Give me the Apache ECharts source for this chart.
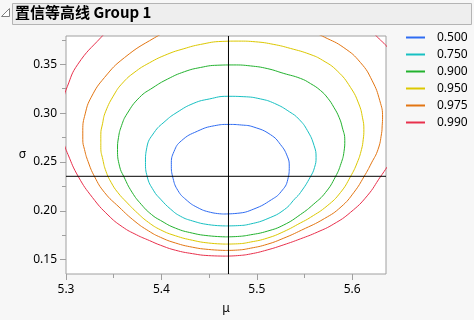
<!DOCTYPE html>
<html>
<head>
<meta charset="utf-8">
<script src="https://cdn.jsdelivr.net/npm/echarts@6/dist/echarts.min.js"></script>
<style>
html,body{margin:0;padding:0;background:#f7f7f7;}
#chart{width:474px;height:320px;}
</style>
</head>
<body>
<div id="chart"></div>
<script>
// ---- data ----
const levels = ['0.500', '0.750', '0.900', '0.950', '0.975', '0.990'];

const contour500 = [[5.4654,0.1967],[5.4515,0.1984],[5.4375,0.2035],[5.4258,0.2114],[5.4174,0.2206],[5.4122,0.2332],[5.4104,0.2475],[5.4132,0.2607],[5.4211,0.2718],[5.4378,0.2815],[5.4557,0.2871],[5.4703,0.2884],[5.4840,0.2878],[5.4969,0.2857],[5.5144,0.2779],[5.5248,0.2678],[5.5319,0.2559],[5.5340,0.2457],[5.5325,0.2322],[5.5254,0.2195],[5.5154,0.2114],[5.4969,0.2018],[5.4795,0.1974],[5.4654,0.1967]];

const contour750 = [[5.4672,0.1845],[5.4494,0.1858],[5.4326,0.1896],[5.4200,0.1944],[5.4095,0.2018],[5.3991,0.2119],[5.3920,0.2204],[5.3851,0.2350],[5.3833,0.2495],[5.3847,0.2647],[5.3922,0.2799],[5.4038,0.2916],[5.4164,0.3008],[5.4340,0.3101],[5.4504,0.3145],[5.4690,0.3172],[5.4864,0.3168],[5.5039,0.3145],[5.5186,0.3099],[5.5343,0.3013],[5.5442,0.2937],[5.5531,0.2820],[5.5600,0.2668],[5.5621,0.2546],[5.5605,0.2444],[5.5563,0.2350],[5.5458,0.2187],[5.5400,0.2124],[5.5290,0.2013],[5.5117,0.1921],[5.4934,0.1865],[5.4798,0.1848],[5.4672,0.1845]];

const contour900 = [[5.4672,0.1733],[5.4494,0.1744],[5.4326,0.1771],[5.4148,0.1822],[5.3991,0.1901],[5.3896,0.1962],[5.3791,0.2063],[5.3692,0.2190],[5.3606,0.2350],[5.3561,0.2457],[5.3540,0.2627],[5.3550,0.2749],[5.3582,0.2871],[5.3639,0.2992],[5.3770,0.3160],[5.3912,0.3261],[5.4064,0.3348],[5.4242,0.3424],[5.4410,0.3467],[5.4585,0.3490],[5.4759,0.3493],[5.4934,0.3483],[5.5109,0.3456],[5.5283,0.3406],[5.5458,0.3355],[5.5563,0.3302],[5.5668,0.3231],[5.5746,0.3150],[5.5807,0.3060],[5.5862,0.2957],[5.5895,0.2857],[5.5922,0.2721],[5.5914,0.2607],[5.5883,0.2485],[5.5825,0.2350],[5.5720,0.2187],[5.5597,0.2069],[5.5458,0.1962],[5.5283,0.1855],[5.5109,0.1791],[5.4934,0.1754],[5.4798,0.1737],[5.4672,0.1733]];

const contour950 = [[5.4672,0.1659],[5.4494,0.1670],[5.4326,0.1698],[5.4148,0.1744],[5.3991,0.1805],[5.3865,0.1881],[5.3749,0.1977],[5.3634,0.2089],[5.3543,0.2187],[5.3475,0.2287],[5.3419,0.2404],[5.3386,0.2525],[5.3365,0.2647],[5.3365,0.2779],[5.3383,0.2891],[5.3414,0.3013],[5.3508,0.3195],[5.3592,0.3307],[5.3713,0.3414],[5.3875,0.3515],[5.4061,0.3602],[5.4235,0.3659],[5.4410,0.3703],[5.4637,0.3734],[5.4811,0.3737],[5.4986,0.3730],[5.5178,0.3703],[5.5353,0.3662],[5.5556,0.3602],[5.5689,0.3541],[5.5843,0.3432],[5.5982,0.3263],[5.6069,0.3094],[5.6108,0.2952],[5.6122,0.2830],[5.6115,0.2728],[5.6097,0.2627],[5.6052,0.2492],[5.5982,0.2350],[5.5877,0.2187],[5.5738,0.2051],[5.5563,0.1933],[5.5458,0.1876],[5.5283,0.1787],[5.5109,0.1720],[5.4934,0.1680],[5.4798,0.1662],[5.4672,0.1659]];

const contour975 = [[5.4672,0.1594],[5.4494,0.1604],[5.4326,0.1627],[5.4148,0.1670],[5.3991,0.1728],[5.3865,0.1794],[5.3723,0.1891],[5.3556,0.2038],[5.3404,0.2187],[5.3299,0.2350],[5.3231,0.2505],[5.3194,0.2627],[5.3176,0.2728],[5.3176,0.2823],[5.3201,0.2992],[5.3264,0.3162],[5.3404,0.3365],[5.3613,0.3568],[5.3928,0.3771],[5.4085,0.3840],[5.4305,0.3896],[5.4567,0.3937],[5.4850,0.3952],[5.5144,0.3937],[5.5406,0.3886],[5.5573,0.3835],[5.5710,0.3777],[5.5912,0.3670],[5.6087,0.3517],[5.6210,0.3330],[5.6289,0.3127],[5.6318,0.2959],[5.6314,0.2871],[5.6307,0.2789],[5.6270,0.2627],[5.6202,0.2490],[5.6124,0.2350],[5.6019,0.2190],[5.5883,0.2040],[5.5710,0.1921],[5.5469,0.1802],[5.5283,0.1720],[5.5109,0.1657],[5.4934,0.1617],[5.4798,0.1598],[5.4672,0.1594]];

const contour990 = [[5.4672,0.1536],[5.4494,0.1541],[5.4326,0.1561],[5.4148,0.1596],[5.3991,0.1647],[5.3875,0.1695],[5.3739,0.1754],[5.3592,0.1835],[5.3440,0.1957],[5.3278,0.2135],[5.3129,0.2350],[5.3021,0.2576],[5.2974,0.2708],[5.2948,0.2850],[5.2942,0.2992],[5.2969,0.3124],[5.3013,0.3270],[5.3124,0.3500],[5.3369,0.3777],[5.3550,0.3947],[5.3781,0.4099],[5.4043,0.4185],[5.4357,0.4236],[5.4724,0.4251],[5.5091,0.4241],[5.5458,0.4190],[5.5773,0.4109],[5.6003,0.4008],[5.6150,0.3896],[5.6265,0.3777],[5.6373,0.3670],[5.6433,0.3571],[5.6475,0.3439],[5.6501,0.3287],[5.6512,0.3114],[5.6506,0.2931],[5.6485,0.2759],[5.6443,0.2607],[5.6401,0.2505],[5.6349,0.2424],[5.6297,0.2350],[5.6157,0.2153],[5.5982,0.1984],[5.5807,0.1865],[5.5633,0.1781],[5.5458,0.1713],[5.5283,0.1652],[5.5109,0.1599],[5.4934,0.1558],[5.4798,0.1541],[5.4672,0.1536]];

// estimate crosshair (MLE)
const muHat = 5.4703;
const sigmaHat = 0.2353;

// axis ticks
const xTicks = [5.3, 5.4, 5.5, 5.6];
const xMinorTicks = [5.35, 5.45, 5.55];
const yTicks = [0.15, 0.20, 0.25, 0.30, 0.35];
const yMinorTicks = [0.175, 0.225, 0.275, 0.325, 0.375];

const xRange = [5.3, 5.6354];
const yRange = [0.13528, 0.37893];

// ---- styles ----
const colors = ['#2f6cf2', '#17c0c2', '#22b22e', '#dcc800', '#e27512', '#e8304c'];
const contours = [contour500, contour750, contour900, contour950, contour975, contour990];
const axisGray = '#a0a0a0';
const fontFam = '"Noto Sans", "DejaVu Sans", sans-serif';

const chart = echarts.init(document.getElementById('chart'), null, {renderer: 'canvas'});

const series = contours.map((d, i) => ({
  type: 'line',
  name: levels[i],
  data: d,
  showSymbol: false,
  symbol: 'none',
  smooth: 0.5,
  clip: true,
  color: colors[i],
  lineStyle: {width: 1, color: colors[i]},
  animation: false,
  z: 3
}));

series.push({
  type: 'line', name: 'muHat',
  data: [[muHat, yRange[0]], [muHat, yRange[1]]],
  symbol: 'none', lineStyle: {width: 1, color: '#000'}, color: '#000', animation: false, z: 4
});
series.push({
  type: 'line', name: 'sigmaHat',
  data: [[xRange[0], sigmaHat], [xRange[1], sigmaHat]],
  symbol: 'none', lineStyle: {width: 1, color: '#000'}, color: '#000', animation: false, z: 4
});

const option = {
  backgroundColor: '#f7f7f7',
  animation: false,
  grid: {
    left: 66, top: 36, width: 320, height: 240,
    show: true, backgroundColor: '#ffffff', borderColor: axisGray, borderWidth: 1
  },
  legend: {
    data: levels,
    orient: 'vertical',
    left: 401, top: 24,
    icon: 'rect',
    itemWidth: 19, itemHeight: 2,
    itemGap: 0,
    selectedMode: false,
    textStyle: {fontSize: 12, lineHeight: 17, color: '#000', fontFamily: fontFam, padding: [0, 0, 0, 7]}
  },
  xAxis: [
    {
      type: 'value', min: xRange[0], max: xRange[1],
      axisLine: {show: false}, splitLine: {show: false},
      axisTick: {show: true, length: 6, lineStyle: {color: axisGray}, customValues: xTicks},
      axisLabel: {customValues: xTicks, formatter: v => v.toFixed(1), fontSize: 12, color: '#000', margin: 10, fontFamily: fontFam},
      name: 'μ', nameLocation: 'middle', nameGap: 29,
      nameTextStyle: {fontSize: 12, color: '#000', fontFamily: fontFam}
    },
    {
      type: 'value', min: xRange[0], max: xRange[1], position: 'bottom',
      axisLine: {show: false}, splitLine: {show: false},
      axisTick: {show: true, length: 4, lineStyle: {color: axisGray}, customValues: xMinorTicks},
      axisLabel: {show: false}
    }
  ],
  yAxis: [
    {
      type: 'value', min: yRange[0], max: yRange[1],
      axisLine: {show: false}, splitLine: {show: false},
      axisTick: {show: true, length: 6, lineStyle: {color: axisGray}, customValues: yTicks},
      axisLabel: {customValues: yTicks, formatter: v => v.toFixed(2), fontSize: 12, color: '#000', margin: 9, fontFamily: fontFam},
      name: 'σ', nameLocation: 'middle', nameRotate: 0, nameGap: 40,
      nameTextStyle: {fontSize: 12, color: '#000', fontFamily: fontFam}
    },
    {
      type: 'value', min: yRange[0], max: yRange[1], position: 'left',
      axisLine: {show: false}, splitLine: {show: false},
      axisTick: {show: true, length: 4, lineStyle: {color: axisGray}, customValues: yMinorTicks},
      axisLabel: {show: false}
    }
  ],
  graphic: [
    {
      type: 'rect', left: 12, top: 3, z: 10,
      shape: {x: 0, y: 0, width: 459, height: 21},
      style: {fill: '#eeeeee', stroke: '#b4b4b4', lineWidth: 1}
    },
    {
      type: 'polygon', z: 11,
      shape: {points: [[1.5, 16.5], [9.5, 8.5], [9.5, 16.5]]},
      style: {fill: '#ffffff', stroke: '#808080', lineWidth: 1}
    },
    {
      type: 'text', left: 15, top: 5, z: 12,
      style: {text: '置信等高线 Group 1', font: 'bold 15px "Noto Sans CJK SC", "Noto Sans", sans-serif', fill: '#000'}
    }
  ],
  series: series
};

chart.setOption(option);
</script>
</body>
</html>
